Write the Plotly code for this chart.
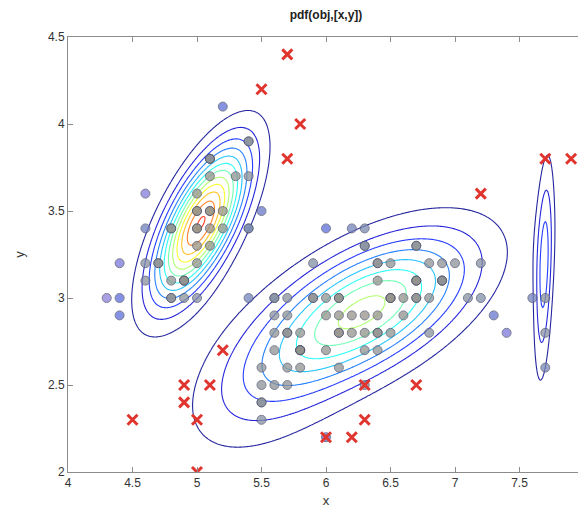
import numpy as np
import plotly.graph_objects as go

# Fisher iris: sepal length (x) and sepal width (y)
sepal_length = [5.1,4.9,4.7,4.6,5.0,5.4,4.6,5.0,4.4,4.9,5.4,4.8,4.8,4.3,5.8,5.7,5.4,5.1,5.7,5.1,
                5.4,5.1,4.6,5.1,4.8,5.0,5.0,5.2,5.2,4.7,4.8,5.4,5.2,5.5,4.9,5.0,5.5,4.9,4.4,5.1,
                5.0,4.5,4.4,5.0,5.1,4.8,5.1,4.6,5.3,5.0,
                7.0,6.4,6.9,5.5,6.5,5.7,6.3,4.9,6.6,5.2,5.0,5.9,6.0,6.1,5.6,6.7,5.6,5.8,6.2,5.6,
                5.9,6.1,6.3,6.1,6.4,6.6,6.8,6.7,6.0,5.7,5.5,5.5,5.8,6.0,5.4,6.0,6.7,6.3,5.6,5.5,
                5.5,6.1,5.8,5.0,5.6,5.7,5.7,6.2,5.1,5.7,
                6.3,5.8,7.1,6.3,6.5,7.6,4.9,7.3,6.7,7.2,6.5,6.4,6.8,5.7,5.8,6.4,6.5,7.7,7.7,6.0,
                6.9,5.6,7.7,6.3,6.7,7.2,6.2,6.1,6.4,7.2,7.4,7.9,6.4,6.3,6.1,7.7,6.3,6.4,6.0,6.9,
                6.7,6.9,5.8,6.8,6.7,6.7,6.3,6.5,6.2,5.9]
sepal_width = [3.5,3.0,3.2,3.1,3.6,3.9,3.4,3.4,2.9,3.1,3.7,3.4,3.0,3.0,4.0,4.4,3.9,3.5,3.8,3.8,
               3.4,3.7,3.6,3.3,3.4,3.0,3.4,3.5,3.4,3.2,3.1,3.4,4.1,4.2,3.1,3.2,3.5,3.1,3.0,3.4,
               3.5,2.3,3.2,3.5,3.8,3.0,3.8,3.2,3.7,3.3,
               3.2,3.2,3.1,2.3,2.8,2.8,3.3,2.4,2.9,2.7,2.0,3.0,2.2,2.9,2.9,3.1,3.0,2.7,2.2,2.5,
               3.2,2.8,2.5,2.8,2.9,3.0,2.8,3.0,2.9,2.6,2.4,2.4,2.7,2.7,3.0,3.4,3.1,2.3,3.0,2.5,
               2.6,3.0,2.6,2.3,2.7,3.0,2.9,2.9,2.5,2.8,
               3.3,2.7,3.0,2.9,3.0,3.0,2.5,2.9,2.5,3.6,3.2,2.7,3.0,2.5,2.8,3.2,3.0,3.8,2.6,2.2,
               3.2,2.8,2.8,2.7,3.3,3.2,2.8,3.0,2.8,3.0,2.8,3.8,2.8,2.8,2.6,3.0,3.4,3.1,3.0,3.1,
               3.1,3.1,2.7,3.2,3.3,3.0,2.5,3.0,3.4,3.0]

# points flagged as outliers (red crosses)
outlier_x = [4.5,5.0,4.9,4.9,5.0,5.1,5.2,6.0,6.2,6.3,6.3,6.7,5.7,5.5,5.8,5.7,7.2,7.7,7.9]
outlier_y = [2.3,2.0,2.4,2.5,2.3,2.5,2.7,2.2,2.2,2.3,2.5,2.5,4.4,4.2,4.0,3.8,3.6,3.8,3.8]

# Gaussian mixture components (estimated from the contours)
comp_weight = [0.33, 0.14, 0.51, 0.035]
comp_mean_x = [5.03, 5.60, 6.35, 7.69]
comp_mean_y = [3.43, 2.55, 2.95, 3.17]
comp_sd_x = [0.24, 0.45, 0.52, 0.05]
comp_sd_y = [0.29, 0.30, 0.28, 0.41]
comp_rho = [0.68, 0.50, 0.55, 0.35]

# contour levels of the pdf
level_start, level_end, level_step = 0.085, 1.2, 0.085
color_top = 1.45   # colour scale reaches this multiple of the pdf maximum


def gm_pdf(x, y):
    total = np.zeros_like(np.asarray(x, dtype=float))
    for w, mx, my, sx, sy, r in zip(comp_weight, comp_mean_x, comp_mean_y,
                                     comp_sd_x, comp_sd_y, comp_rho):
        zx = (x - mx) / sx
        zy = (y - my) / sy
        q = (zx**2 - 2*r*zx*zy + zy**2) / (1 - r**2)
        total = total + w * np.exp(-q / 2) / (2*np.pi*sx*sy*np.sqrt(1 - r**2))
    return total


# inliers: remove one occurrence of every outlier
remaining = list(zip(sepal_length, sepal_width))
for p in zip(outlier_x, outlier_y):
    if p in remaining:
        remaining.remove(p)
in_x = np.array([p[0] for p in remaining])
in_y = np.array([p[1] for p in remaining])

gx = np.linspace(4, 8, 401)
gy = np.linspace(2, 4.5, 301)
GX, GY = np.meshgrid(gx, gy)
Z = gm_pdf(GX, GY)

jet = [[0.0, '#00008f'], [0.125, '#0000ff'], [0.375, '#00ffff'],
       [0.625, '#ffff00'], [0.875, '#ff0000'], [1.0, '#800000']]

fig = go.Figure()
fig.add_trace(go.Contour(
    x=gx, y=gy, z=Z,
    contours=dict(start=level_start, end=level_end, size=level_step, coloring='lines'),
    colorscale=jet, zmin=0, zmax=float(Z.max()) * color_top,
    line=dict(width=1.1), showscale=False, hoverinfo='skip', opacity=0.85))

dens = np.log(gm_pdf(in_x, in_y))
fig.add_trace(go.Scatter(
    x=in_x, y=in_y, mode='markers',
    marker=dict(symbol='circle', size=9, color=dens,
                colorscale=[[0, '#8f80dc'], [0.3, '#5a6cdc'], [0.55, '#8090a8'], [1, '#9a9484']],
                line=dict(color='#50556e', width=1), opacity=0.75),
    showlegend=False))
fig.add_trace(go.Scatter(
    x=outlier_x, y=outlier_y, mode='markers',
    marker=dict(symbol='x-thin', size=10, line=dict(color='#e0352f', width=3)),
    showlegend=False))

axis_common = dict(showline=True, linecolor='#8c8c8c', linewidth=1, mirror='ticks',
                   ticks='inside', ticklen=5, tickcolor='#8c8c8c', showgrid=False,
                   zeroline=False, tickfont=dict(size=12, color='#333333'))
fig.update_xaxes(range=[4, 8], tickvals=[4, 4.5, 5, 5.5, 6, 6.5, 7, 7.5, 8],
                 ticktext=['4', '4.5', '5', '5.5', '6', '6.5', '7', '7.5', '8'],
                 title=dict(text='x', font=dict(size=13, color='#333333'), standoff=6),
                 **axis_common)
fig.update_yaxes(range=[2, 4.5], tickvals=[2, 2.5, 3, 3.5, 4, 4.5],
                 ticktext=['2', '2.5', '3', '3.5', '4', '4.5'],
                 title=dict(text='y', font=dict(size=13, color='#333333'), standoff=20),
                 **axis_common)
fig.update_layout(
    width=586, height=514,
    margin=dict(l=60, r=6, t=29, b=50),
    paper_bgcolor='white', plot_bgcolor='white',
    font=dict(family='Liberation Sans, Arial, sans-serif'),
    title=dict(text='<b>pdf(obj,[x,y])</b>', xref='paper', x=0.5, xanchor='center',
               yref='container', y=0.995, yanchor='top',
               font=dict(size=12, color='#222222')),
)
fig.write_html('out.html')
